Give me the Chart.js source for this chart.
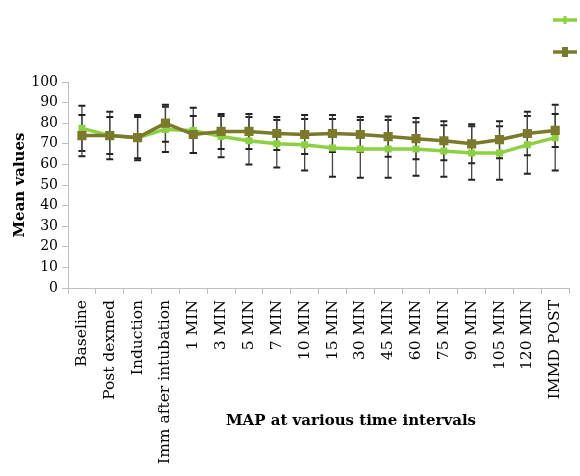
<!DOCTYPE html>
<html lang="en">
<head>
<meta charset="UTF-8">
<title>MAP at various time intervals</title>
<script src="https://cdn.jsdelivr.net/npm/chart.js"></script>
<style>
    html, body { margin: 0; padding: 0; background: #fff; }
    .chart-container { width: 580px; height: 476px; position: relative; }
</style>
</head>
<body>
<div class="chart-container"><canvas id="mapChart"></canvas></div>
<script>
    // time points on the x axis
    const timeLabels = ['Baseline', 'Post dexmed', 'Induction', 'Imm after intubation', '1 MIN', '3 MIN',
        '5 MIN', '7 MIN', '10 MIN', '15 MIN', '30 MIN', '45 MIN', '60 MIN', '75 MIN', '90 MIN',
        '105 MIN', '120 MIN', 'IMMD POST'];

    // light green group: mean and SD
    const lightMean = [77.5, 74, 73, 77, 76.5, 73.5, 71.5, 70, 69.5, 68, 67.5, 67.5, 67.5, 66.5, 65.5, 65.5, 69.5, 73];
    const lightSd = [11, 11.5, 11, 11, 11, 10, 11.5, 11.5, 12.5, 14, 14, 14, 13, 12.5, 13, 13, 14, 16];

    // olive group: mean and SD
    const darkMean = [74, 74, 73, 80, 74.5, 76, 76, 75, 74.5, 75, 74.5, 73.5, 72.5, 71.5, 70, 72, 75, 76.5];
    const darkSd = [10, 9, 10, 9, 9, 8.5, 8.5, 8, 9.5, 9, 8.5, 9.8, 10, 9.5, 9.5, 9, 10.5, 8];

    const LIGHT = '#8ed043';
    const DARK = '#7b7a2c';
    const FONT = "'DejaVu Serif', serif";

    // vertical error bars, drawn under the lines
    const errorBars = {
        id: 'errorBars',
        beforeDatasetsDraw(chart) {
            const ctx = chart.ctx;
            const y = chart.scales.y;
            chart.data.datasets.forEach((ds, i) => {
                const meta = chart.getDatasetMeta(i);
                meta.data.forEach((pt, j) => {
                    const top = y.getPixelForValue(ds.data[j] + ds.sd[j]);
                    const bot = y.getPixelForValue(ds.data[j] - ds.sd[j]);
                    ctx.save();
                    ctx.strokeStyle = '#444';
                    ctx.lineWidth = 1.3;
                    ctx.beginPath();
                    ctx.moveTo(pt.x, top);
                    ctx.lineTo(pt.x, bot);
                    ctx.stroke();
                    ctx.strokeStyle = '#222';
                    ctx.lineWidth = 2;
                    ctx.beginPath();
                    ctx.moveTo(pt.x - 3.5, top);
                    ctx.lineTo(pt.x + 3.5, top);
                    ctx.moveTo(pt.x - 3.5, bot);
                    ctx.lineTo(pt.x + 3.5, bot);
                    ctx.stroke();
                    ctx.restore();
                });
            });
        }
    };

    // legend samples without text, stacked at top right
    const cornerLegend = {
        id: 'cornerLegend',
        afterDraw(chart) {
            const ctx = chart.ctx;
            const rows = [
                {ds: chart.data.datasets[0], y: 20, mw: 3, mh: 8},
                {ds: chart.data.datasets[1], y: 52, mw: 6, mh: 10}
            ];
            rows.forEach(r => {
                ctx.save();
                ctx.strokeStyle = r.ds.borderColor;
                ctx.lineWidth = 3.5;
                ctx.beginPath();
                ctx.moveTo(553, r.y);
                ctx.lineTo(577, r.y);
                ctx.stroke();
                ctx.fillStyle = r.ds.borderColor;
                ctx.fillRect(565 - r.mw / 2, r.y - r.mh / 2, r.mw, r.mh);
                ctx.restore();
            });
        }
    };

    // x axis title sits inside the label band
    const xTitle = {
        id: 'xTitle',
        afterDraw(chart) {
            const ctx = chart.ctx;
            ctx.save();
            ctx.font = 'bold 15px ' + FONT;
            ctx.fillStyle = '#000';
            ctx.textAlign = 'center';
            ctx.textBaseline = 'middle';
            ctx.fillText('MAP at various time intervals', 351, 421);
            ctx.restore();
        }
    };

    new Chart(document.getElementById('mapChart'), {
        type: 'line',
        data: {
            labels: timeLabels,
            datasets: [{
                label: '',
                data: lightMean,
                sd: lightSd,
                borderColor: LIGHT,
                backgroundColor: LIGHT,
                borderWidth: 3.5,
                pointStyle: 'rect',
                pointRadius: 2.5,
                order: 1
            }, {
                label: '',
                data: darkMean,
                sd: darkSd,
                borderColor: DARK,
                backgroundColor: DARK,
                borderWidth: 3.5,
                pointStyle: 'rect',
                pointRadius: 4,
                order: 0
            }]
        },
        options: {
            responsive: true,
            maintainAspectRatio: false,
            animation: false,
            layout: { padding: { top: 82, right: -4, bottom: 0, left: 0 } },
            plugins: {
                legend: { display: false },
                tooltip: { enabled: false }
            },
            scales: {
                x: {
                    offset: true,
                    grid: { offset: true, drawOnChartArea: false, tickLength: 6, color: '#bfbfbf' },
                    border: { color: '#bfbfbf' },
                    ticks: {
                        minRotation: 90, maxRotation: 90, autoSkip: false, padding: 6,
                        color: '#000', font: { family: FONT, size: 15.5 }
                    },
                    afterFit: s => { s.height = 188; }
                },
                y: {
                    min: 0,
                    max: 100,
                    grid: { drawOnChartArea: false, tickLength: 6, color: '#bfbfbf' },
                    border: { color: '#bfbfbf' },
                    ticks: { stepSize: 10, padding: 4, color: '#000', font: { family: FONT, size: 14 } },
                    title: {
                        display: true, text: 'Mean values', color: '#000',
                        font: { family: FONT, size: 15, weight: 'bold' },
                        padding: { top: 11, bottom: 0 }
                    },
                    afterFit: s => { s.width = 68; }
                }
            }
        },
        plugins: [errorBars, cornerLegend, xTitle]
    });
</script>
</body>
</html>
